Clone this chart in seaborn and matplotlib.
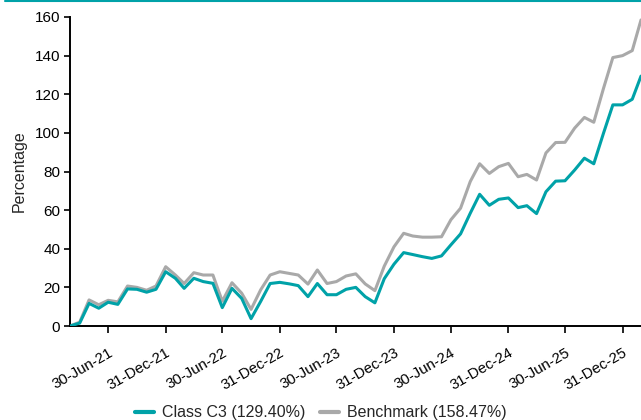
import pandas as pd
import seaborn as sns
import matplotlib.pyplot as plt
from matplotlib.lines import Line2D

# month-end dates, Feb-21 to Feb-26
dates = pd.date_range("2021-02-28", "2026-02-28", freq="ME")

class_c3 = [0, 1.5, 11.7, 9.2, 12.3, 11.2, 19.2, 19.0, 17.5, 19.0,
            28.1, 24.7, 19.5, 24.7, 23.0, 22.1, 9.5, 19.5, 14.3, 3.8,
            12.8, 22.0, 22.6, 21.8, 20.9, 15.2, 22.0, 16.2, 16.2, 19.0,
            20.0, 15.2, 12.0, 24.5, 32.0, 38.0, 37.0, 35.9, 35.0, 36.3,
            42.0, 47.7, 58.4, 68.2, 62.5, 65.6, 66.3, 61.3, 62.3, 58.2,
            69.5, 75.0, 75.2, 80.8, 86.9, 84.0, 99.8, 114.5, 114.5, 117.4,
            129.4]
benchmark = [0, 2.0, 13.5, 11.0, 13.3, 12.5, 20.7, 20.0, 18.5, 20.7,
             30.7, 26.4, 22.0, 27.6, 26.4, 26.4, 12.8, 22.4, 17.0, 8.6,
             18.8, 26.4, 28.1, 27.2, 26.4, 21.7, 29.0, 22.0, 23.0, 25.9,
             27.0, 21.8, 18.3, 31.0, 41.0, 48.0, 46.6, 46.0, 46.0, 46.2,
             55.0, 61.0, 74.8, 84.0, 79.0, 82.5, 84.2, 77.3, 78.5, 75.6,
             89.6, 95.0, 95.1, 102.5, 108.0, 105.5, 123.0, 139.0, 140.0, 142.6,
             158.47]

labels = ["Class C3 (129.40%)", "Benchmark (158.47%)"]
tick_dates = pd.to_datetime(["2021-06-30", "2021-12-31", "2022-06-30", "2022-12-31",
                             "2023-06-30", "2023-12-31", "2024-06-30", "2024-12-31",
                             "2025-06-30", "2025-12-31"])

df = pd.DataFrame({"date": list(dates) * 2,
                   "value": class_c3 + benchmark,
                   "series": [labels[0]] * len(dates) + [labels[1]] * len(dates)})

sns.set_style("ticks")
plt.rcParams["font.family"] = ["Liberation Sans", "DejaVu Sans"]

fig = plt.figure(figsize=(6.41, 4.2), dpi=100)
ax = fig.add_axes([70 / 641, 1 - 326 / 420, 1 - 70 / 641, 309 / 420])

sns.lineplot(data=df, x="date", y="value", hue="series",
             palette=["#00A2A8", "#A9A9A9"], hue_order=labels,
             linewidth=2.2, ax=ax, legend=False)
# draw teal on top
ax.lines[0].set_zorder(3)

ax.set_xlim(dates[0], dates[-1])
ax.set_ylim(0, 160)
ax.set_yticks(range(0, 161, 20))
ax.set_xticks(tick_dates)
ax.set_xticklabels([d.strftime("%d-%b-%y") for d in tick_dates],
                   rotation=30, ha="right", rotation_mode="anchor", fontsize=10.8)
ax.tick_params(axis="y", labelsize=11, length=4, width=1.2, colors="black", pad=3)
ax.tick_params(axis="x", length=5, width=1.2, colors="black", pad=9)
for s in ["top", "right"]:
    ax.spines[s].set_visible(False)
for s in ["left", "bottom"]:
    ax.spines[s].set_linewidth(1.4)
    ax.spines[s].set_color("black")
ax.set_xlabel("")
ax.set_ylabel("Percentage", fontsize=11.5, labelpad=6)

handles = [Line2D([], [], color="#00A2A8", lw=3),
           Line2D([], [], color="#A9A9A9", lw=3)]
fig.legend(handles, labels, loc="center", bbox_to_anchor=(0.5, 1 - 413 / 420),
           ncol=2, frameon=False, fontsize=11.5, handlelength=1.2,
           handletextpad=0.5, columnspacing=0.9)

# teal rule across the top
fig.add_artist(Line2D([5 / 641, 1], [1 - 0.5 / 420, 1 - 0.5 / 420],
                      color="#00A2A8", lw=1.5))

fig.savefig("out.png", dpi=100)
